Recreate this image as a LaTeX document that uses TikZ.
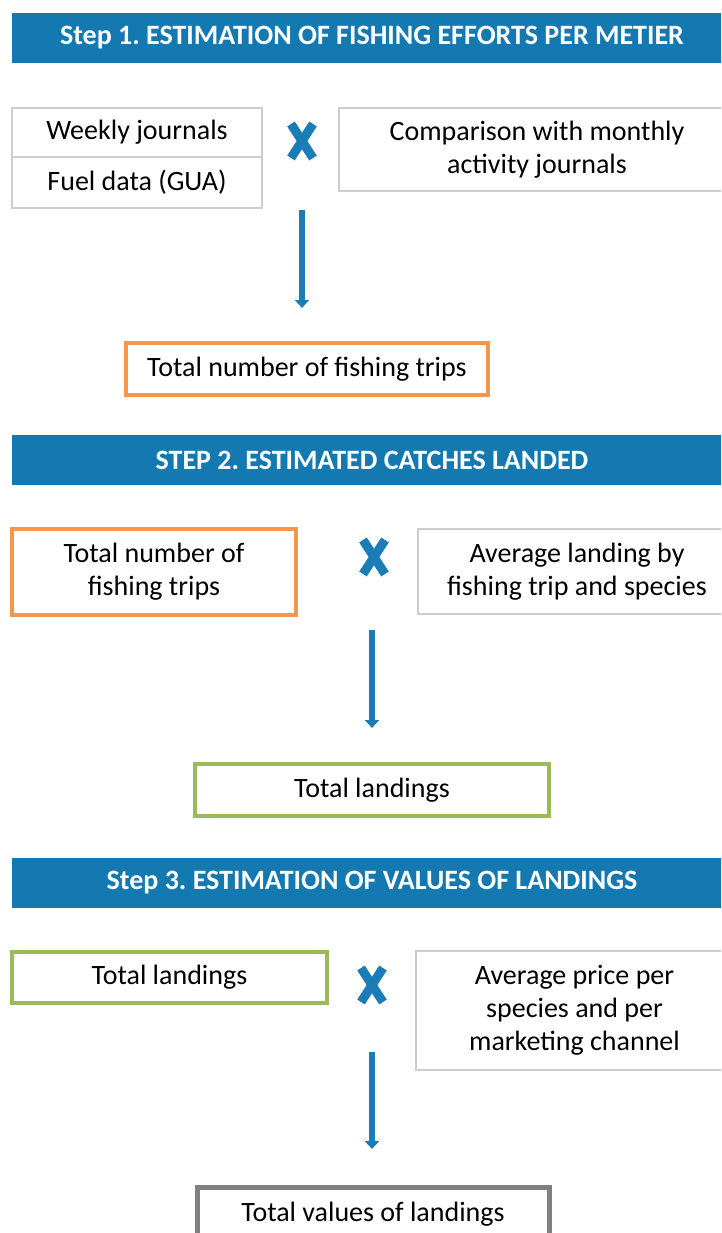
\documentclass[tikz,border=0pt]{standalone}
\usepackage{fontspec}
\setmainfont{Carlito}
\frenchspacing
\usetikzlibrary{arrows.meta,calc}
\definecolor{bannerblue}{HTML}{1479B1}
\definecolor{markblue}{HTML}{1A7DB8}
\definecolor{boxgray}{HTML}{CDCDCD}
\definecolor{orangeb}{HTML}{F7964A}
\definecolor{greenb}{HTML}{9BBB59}
\definecolor{darkgray}{HTML}{808080}
\tikzset{
  x=1pt, y=-1pt,
  txt/.style={font=\fontsize{28}{33}\selectfont, text=black, align=center, inner sep=0pt},
  graybox/.style={txt, draw=boxgray, line width=2pt, fill=white},
  orangebox/.style={txt, draw=orangeb, line width=3.5pt},
  greenbox/.style={txt, draw=greenb, line width=3.5pt},
  darkbox/.style={txt, draw=darkgray, line width=5pt},
  banner/.style={fill=bannerblue, text=white, font=\fontsize{28}{32}\selectfont\bfseries, inner sep=0pt, minimum width=720pt, minimum height=50pt},
  timesmark/.style={draw=markblue, line width=9pt},
  flowarrow/.style={draw=markblue, line width=6pt, -{Triangle[width=14pt,length=8pt]}},
}
\begin{document}
\begin{tikzpicture}
\useasboundingbox (0,0) rectangle (721,1233);
\clip (0,0) rectangle (721,1233);
\fill[white] (0,0) rectangle (721,1233);

% Step 1
\node[banner] (b1) at (372,38) {Step 1. ESTIMATION OF FISHING EFFORTS PER METIER};
\node[graybox, minimum width=250pt, minimum height=49pt] (weekly) at (137,132.5) {Weekly journals};
\node[graybox, minimum width=250pt, minimum height=51pt] (fuel) at (137,182.5) {Fuel data (GUA)};
\node[graybox, minimum width=396pt, minimum height=83pt] (comp) at (537,150) {Comparison with monthly\\activity journals};
\coordinate (x1) at (302,141);
\draw[timesmark] ($(x1)+(-11,-17)$) -- ($(x1)+(11,17)$);
\draw[timesmark] ($(x1)+(11,-17)$) -- ($(x1)+(-11,17)$);
\coordinate (a1s) at (302,210);
\node[orangebox, minimum width=362pt, minimum height=52pt] (trips1) at (307,369) {Total number of fishing trips};
\coordinate (a1e) at (302,308);
\draw[flowarrow] (a1s) -- (a1e);

% Step 2
\node[banner] (b2) at (372,460) {STEP 2. ESTIMATED CATCHES LANDED};
\node[orangebox, minimum width=284pt, minimum height=86pt] (trips2) at (154,572) {Total number of\\fishing trips};
\coordinate (x2) at (374,557);
\draw[timesmark] ($(x2)+(-11,-17)$) -- ($(x2)+(11,17)$);
\draw[timesmark] ($(x2)+(11,-17)$) -- ($(x2)+(-11,17)$);
\node[graybox, minimum width=318pt, minimum height=85pt] (avgland) at (577,571.5) {Average landing by\\fishing trip and species};
\coordinate (a2s) at (372,630);
\coordinate (a2e) at (372,728);
\draw[flowarrow] (a2s) -- (a2e);
\node[greenbox, minimum width=354pt, minimum height=52pt] (land1) at (372,790) {Total landings};

% Step 3
\node[banner] (b3) at (372,883) {Step 3. ESTIMATION OF VALUES OF LANDINGS};
\node[greenbox, minimum width=315pt, minimum height=51pt] (land2) at (169.5,977.5) {Total landings};
\coordinate (x3) at (372,985);
\draw[timesmark] ($(x3)+(-11,-17)$) -- ($(x3)+(11,17)$);
\draw[timesmark] ($(x3)+(11,-17)$) -- ($(x3)+(-11,17)$);
\node[graybox, minimum width=317pt, minimum height=119pt] (avgprice) at (574.5,1010.5) {Average price per\\species and per\\marketing channel};
\coordinate (a3s) at (372,1052);
\coordinate (a3e) at (372,1149);
\draw[flowarrow] (a3s) -- (a3e);
\node[darkbox, minimum width=352pt, minimum height=54pt] (values) at (373,1214) {Total values of landings};
\end{tikzpicture}
\end{document}
